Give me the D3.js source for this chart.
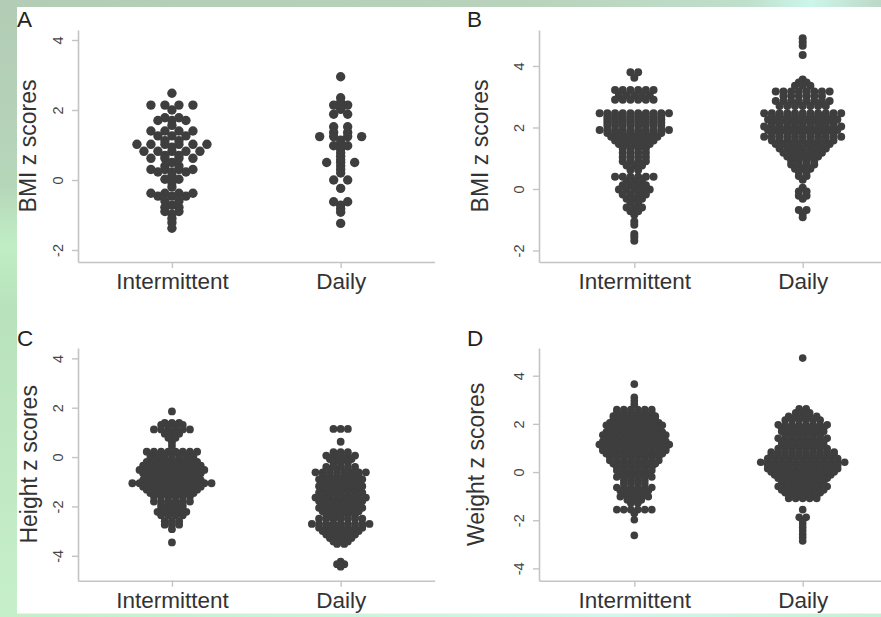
<!DOCTYPE html>
<html><head><meta charset="utf-8">
<script src="https://cdn.jsdelivr.net/npm/d3@7"></script>
<style>body{margin:0;background:#fff}svg{display:block}text{font-family:"Liberation Sans",Arial,sans-serif}</style>
</head><body><svg id="c" width="881" height="617"></svg>
<script>
// ---------- data (dot-plot rows: [z value, number of dots in the row]) ----------
const categories = ["Intermittent", "Daily"];
const panelLabels = ["A", "B", "C", "D"];
const yTitles = ["BMI z scores", "BMI z scores", "Height z scores", "Weight z scores"];
const yTicksAB = [-2, 0, 2, 4];
const yTicksCD = [-4, -2, 0, 2, 4];

const bmiA_intermittent = [[2.48,1],[2.14,4],[2.0,1],[1.78,2],[1.70,3],[1.56,1],[1.40,4],[1.26,3],[1.12,2],[1.02,6],[0.94,1],[0.82,5],[0.70,2],[0.62,4],[0.50,1],[0.40,2],[0.30,4],[0.23,3],[0.12,1],[0.02,2],[-0.08,1],[-0.2,1],[-0.38,4],[-0.46,3],[-0.6,2],[-0.72,1],[-0.78,2],[-0.9,2],[-0.98,1],[-1.1,1],[-1.22,1],[-1.38,1]];
const bmiA_daily = [[2.95,1],[2.35,1],[2.22,1],[2.14,2],[2.02,1],[1.88,2],[1.52,2],[1.36,2],[1.24,4],[1.14,1],[1.04,1],[0.98,2],[0.88,1],[0.78,1],[0.68,1],[0.58,1],[0.5,3],[0.4,1],[0.3,1],[0.2,1],[0.0,2],[-0.24,1],[-0.62,2],[-0.72,1],[-0.82,1],[-0.92,1],[-1.24,1]];
const bmiB_intermittent = [[3.8,2],[3.62,1],[3.22,6],[3.05,5],[2.9,6],[2.46,10],[2.36,8],[2.26,8],[2.16,8],[2.06,8],[1.92,10],[1.82,8],[1.7,7],[1.58,6],[1.46,5],[1.32,4],[1.18,4],[1.04,4],[0.9,4],[0.76,3],[0.62,2],[0.4,6],[0.26,3],[0.12,4],[-0.02,5],[-0.18,4],[-0.32,3],[-0.45,2],[-0.6,3],[-0.72,2],[-0.84,1],[-1.06,1],[-1.16,1],[-1.46,1],[-1.56,1],[-1.68,1]];
const bmiB_daily = [[4.9,1],[4.78,1],[4.66,1],[4.36,1],[3.56,1],[3.46,2],[3.36,3],[3.17,8],[3.02,6],[2.86,8],[2.7,7],[2.46,11],[2.36,9],[2.26,10],[2.14,9],[2.03,11],[1.92,10],[1.82,9],[1.7,11],[1.58,9],[1.46,8],[1.32,7],[1.18,6],[1.06,5],[0.92,4],[0.8,4],[0.66,3],[0.56,2],[0.42,2],[0.3,1],[0.04,1],[-0.08,2],[-0.22,2],[-0.32,1],[-0.68,2],[-0.8,1],[-0.92,1]];
const heightC_intermittent = [[1.85,1],[1.38,3],[1.3,4],[1.12,6],[0.95,3],[0.78,2],[0.6,1],[0.45,1],[0.22,8],[0.08,7],[-0.06,7],[-0.2,8],[-0.35,9],[-0.52,10],[-0.66,9],[-0.8,8],[-0.94,9],[-1.06,12],[-1.2,9],[-1.32,8],[-1.46,7],[-1.6,6],[-1.8,6],[-1.95,4],[-2.08,4],[-2.22,5],[-2.36,4],[-2.6,3],[-2.74,3],[-2.92,1],[-3.46,1]];
const heightC_daily = [[1.14,3],[0.62,1],[0.2,3],[0.06,5],[-0.08,4],[-0.22,3],[-0.4,5],[-0.62,8],[-0.76,6],[-0.9,7],[-1.04,6],[-1.18,7],[-1.3,6],[-1.44,7],[-1.64,8],[-1.78,7],[-1.92,6],[-2.06,7],[-2.2,6],[-2.34,5],[-2.5,7],[-2.71,9],[-2.86,7],[-3.0,6],[-3.14,5],[-3.28,4],[-3.42,3],[-3.52,2],[-4.24,1],[-4.34,2],[-4.44,1]];
const weightD_intermittent = [[3.65,1],[3.1,1],[2.96,1],[2.82,1],[2.6,6],[2.46,6],[2.32,7],[2.18,7],[2.04,8],[1.94,9],[1.8,8],[1.66,9],[1.54,10],[1.42,9],[1.28,10],[1.14,11],[1.02,10],[0.9,10],[0.76,9],[0.62,8],[0.48,8],[0.34,7],[0.2,6],[0.06,6],[-0.08,5],[-0.2,6],[-0.34,4],[-0.48,4],[-0.64,6],[-0.78,5],[-0.9,4],[-1.02,5],[-1.16,3],[-1.3,2],[-1.56,6],[-1.72,1],[-1.98,1],[-2.63,1]];
const weightD_daily = [[4.73,1],[2.63,2],[2.46,3],[2.31,5],[2.16,6],[1.96,8],[1.82,7],[1.68,7],[1.54,6],[1.4,8],[1.26,7],[1.12,7],[0.98,8],[0.83,10],[0.7,10],[0.56,11],[0.41,13],[0.28,11],[0.14,11],[0.0,10],[-0.12,9],[-0.26,8],[-0.4,7],[-0.6,8],[-0.74,7],[-0.86,6],[-0.98,5],[-1.1,5],[-1.56,1],[-1.88,2],[-2.02,1],[-2.16,1],[-2.3,1],[-2.44,1],[-2.58,1],[-2.72,1],[-2.86,1]];

// ---------- layout ----------
const svg = d3.select("#c");
const defs = svg.append("defs");
function grad(id, x2, y2, stops) {
  const g = defs.append("linearGradient").attr("id", id).attr("x1", 0).attr("y1", 0).attr("x2", x2).attr("y2", y2);
  stops.forEach(([o, c]) => g.append("stop").attr("offset", o).attr("stop-color", c));
}
grad("gl", 0, 1, [[0, "#b3ccb5"], [0.3, "#b6d6ba"], [0.4, "#c0eec4"], [0.5, "#b8e2bc"], [0.75, "#bfe8c3"], [1, "#c6f0ca"]]);
grad("gt", 1, 0, [[0, "#b3ccb5"], [0.6, "#b9d2bb"], [0.85, "#bfe0cc"], [0.92, "#ccf6ea"], [1, "#bcd8c6"]]);
grad("gb", 1, 0, [[0, "#c4efc8"], [0.4, "#cdf4da"], [0.7, "#d2f6ec"], [1, "#c8f0d2"]]);
svg.append("rect").attr("width", 881).attr("height", 617).attr("fill", "url(#gl)");
svg.append("rect").attr("width", 881).attr("height", 8).attr("fill", "url(#gt)");
svg.append("rect").attr("y", 613).attr("width", 881).attr("height", 4).attr("fill", "url(#gb)");
svg.append("rect").attr("x", 17).attr("y", 7).attr("width", 864).attr("height", 606.5).attr("fill", "#fff");

const panels = [
  { data: [bmiA_intermittent, bmiA_daily], ax: 78, xr: [78, 434.6], pad: 0.5567, top: 30, bottom: 262, dom: [-2.343, 4.286], ticks: yTicksAB, s: 14, r: 4.7, lx: 17, ly: 27, tx: 35.5 },
  { data: [bmiB_intermittent, bmiB_daily], ax: 539, xr: [539, 898], pad: 0.566, top: 30, bottom: 262, dom: [-2.374, 5.17], ticks: yTicksAB, s: 7.7, r: 4.0, lx: 467, ly: 27, tx: 488 },
  { data: [heightC_intermittent, heightC_daily], ax: 78, xr: [78, 434.6], pad: 0.5567, top: 348, bottom: 580.7, dom: [-5.01, 4.42], ticks: yTicksCD, s: 7.2, r: 3.9, lx: 17, ly: 346, tx: 36.5 },
  { data: [weightD_intermittent, weightD_daily], ax: 539, xr: [539, 898], pad: 0.566, top: 348, bottom: 580.7, dom: [-4.51, 5.15], ticks: yTicksCD, s: 7, r: 3.8, lx: 467, ly: 346, tx: 483.5 }
];

const axisColor = "#c4c4c4";
panels.forEach((p, i) => {
  const g = svg.append("g");
  const x = d3.scalePoint().domain(categories).range(p.xr).padding(p.pad);
  const y = d3.scaleLinear().domain(p.dom).range([p.bottom, p.top]);

  // y axis
  const ya = g.append("g").attr("transform", `translate(${p.ax},0)`)
    .call(d3.axisLeft(y).tickValues(p.ticks).tickSize(6).tickSizeOuter(0).tickFormat(d3.format("d")));
  ya.select(".domain").attr("stroke", axisColor).attr("stroke-width", 1.6);
  ya.selectAll(".tick line").attr("stroke", axisColor).attr("stroke-width", 1.4);
  ya.selectAll(".tick text").attr("x", null).attr("dy", null)
    .attr("transform", "translate(-15,0) rotate(-90)")
    .attr("text-anchor", "middle").attr("font-size", 14.5).attr("fill", "#444")
    .text(d => d < 0 ? "-" + Math.abs(d) : d);

  // x axis
  const xa = g.append("g").attr("transform", `translate(0,${p.bottom})`)
    .call(d3.axisBottom(x).tickSize(6).tickSizeOuter(0));
  xa.select(".domain").attr("stroke", axisColor).attr("stroke-width", 1.6);
  xa.selectAll(".tick line").attr("stroke", axisColor).attr("stroke-width", 1.4);
  xa.selectAll(".tick text").attr("y", 27).attr("dy", null)
    .attr("font-size", 22.5).attr("fill", "#333");

  // dots
  categories.forEach((cat, ci) => {
    const rows = p.data[ci];
    const pts = [];
    rows.forEach(([v, n]) => {
      for (let k = 0; k < n; k++) pts.push({ v, off: (k - (n - 1) / 2) * p.s });
    });
    g.append("g").selectAll("circle").data(pts).join("circle")
      .attr("cx", d => x(cat) + d.off)
      .attr("cy", d => y(d.v))
      .attr("r", p.r)
      .attr("fill", "#3e3e3e");
  });

  // y title
  g.append("text").attr("transform", `translate(${p.tx},${(p.top + p.bottom) / 2}) rotate(-90)`)
    .attr("text-anchor", "middle").attr("font-size", 23).attr("fill", "#333").text(yTitles[i]);
  // panel label
  g.append("text").attr("x", p.lx).attr("y", p.ly).attr("font-size", 22.5).attr("fill", "#222").text(panelLabels[i]);
});
</script></body></html>
